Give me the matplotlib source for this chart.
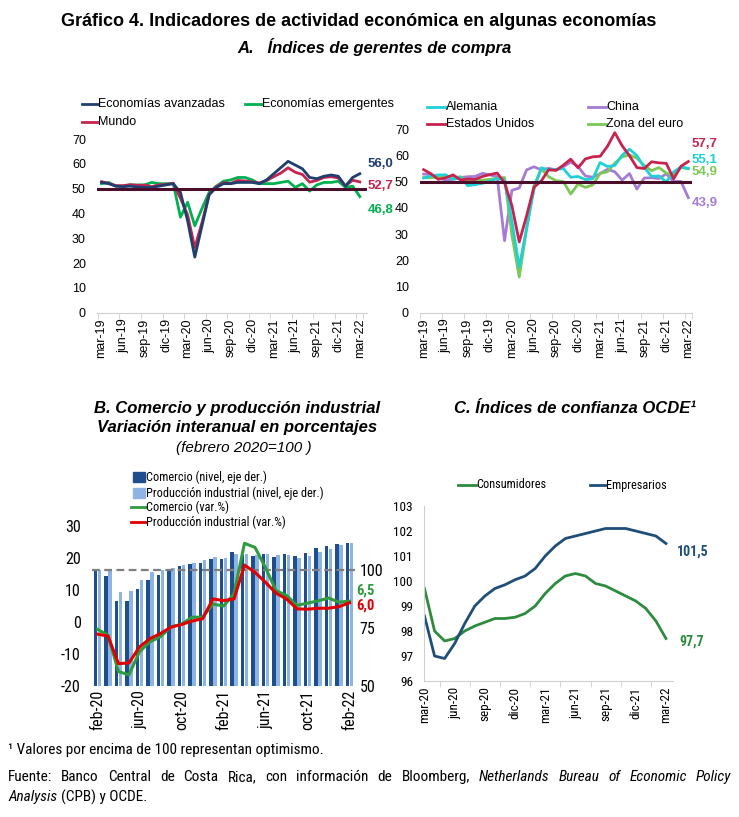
import os
import matplotlib
matplotlib.use("Agg")
import matplotlib.pyplot as plt
from matplotlib import font_manager as fm
from matplotlib.lines import Line2D
from matplotlib.patches import Rectangle

W, H = 739, 817
SANS = ["Liberation Sans", "DejaVu Sans"]
plt.rcParams["font.family"] = SANS
plt.rcParams["axes.unicode_minus"] = False

# ---- Panel A: PMI compuesto, mar-19 a mar-22 (mensual)
etiquetas_a = ["mar-19", "jun-19", "sep-19", "dic-19", "mar-20", "jun-20", "sep-20",
               "dic-20", "mar-21", "jun-21", "sep-21", "dic-21", "mar-22"]
avanzadas = [52.5, 52.0, 51.0, 50.8, 51.0, 50.7, 50.5, 50.5, 51.0, 51.5, 52.0, 48.5, 37.0,
             22.4, 35.0, 47.5, 50.5, 52.0, 52.0, 52.5, 52.5, 52.5, 52.0, 53.5, 56.0, 58.5,
             61.0, 59.5, 58.0, 54.5, 54.0, 55.0, 55.5, 55.0, 51.0, 54.5, 56.0]
emergentes = [52.0, 52.5, 51.0, 51.0, 51.5, 51.5, 51.5, 52.5, 52.0, 52.0, 52.0, 38.5, 44.5,
              35.0, 42.0, 48.5, 51.0, 53.0, 53.5, 54.5, 54.5, 53.5, 52.0, 52.0, 52.0, 52.5,
              53.0, 50.5, 52.0, 49.0, 51.5, 52.5, 52.5, 53.0, 50.5, 51.0, 46.8]
mundo = [52.8, 52.1, 51.2, 51.2, 51.6, 51.3, 51.4, 50.8, 51.5, 51.7, 52.2, 46.1, 39.4,
         26.2, 36.3, 47.7, 50.8, 52.4, 52.1, 53.3, 53.1, 52.7, 52.3, 53.2, 54.8, 56.3,
         58.4, 56.6, 55.7, 52.6, 53.3, 54.5, 54.8, 54.3, 51.1, 53.4, 52.7]

alemania = [51.4, 52.2, 52.6, 52.6, 50.9, 51.7, 48.5, 48.9, 49.4, 50.2, 51.2, 50.7, 35.0,
            17.4, 32.3, 47.0, 55.3, 54.4, 54.7, 55.0, 51.7, 52.0, 50.8, 51.1, 57.3, 55.8,
            56.2, 60.1, 62.4, 60.0, 55.5, 52.0, 52.2, 49.9, 53.8, 55.6, 55.1]
china = [52.9, 52.7, 51.5, 50.6, 50.9, 51.6, 51.9, 52.0, 53.2, 52.6, 51.9, 27.5, 46.7,
         47.6, 54.5, 55.7, 54.5, 55.1, 54.5, 55.7, 57.5, 55.8, 52.2, 51.7, 53.1, 54.7,
         53.8, 50.6, 53.1, 47.2, 51.4, 51.5, 51.2, 53.0, 50.1, 50.1, 43.9]
eeuu = [54.6, 53.0, 50.9, 51.5, 52.6, 50.7, 51.0, 50.9, 52.0, 52.7, 53.3, 49.6, 40.9,
        27.0, 37.0, 47.9, 50.3, 54.6, 54.3, 56.3, 58.6, 55.3, 58.7, 59.5, 59.7, 63.5,
        68.7, 63.7, 59.9, 55.4, 55.0, 57.6, 57.2, 57.0, 51.1, 55.9, 57.7]
zona_euro = [51.6, 51.5, 51.8, 52.2, 51.5, 51.9, 50.1, 50.6, 50.6, 50.9, 51.3, 51.6, 29.7,
             13.6, 31.9, 48.5, 54.9, 51.9, 50.4, 50.0, 45.3, 49.1, 47.8, 48.8, 53.2, 53.8,
             57.1, 59.5, 60.2, 59.0, 56.2, 54.2, 55.4, 53.3, 52.3, 55.5, 54.9]

# ---- Panel B: feb-20 a feb-22
etiquetas_b = ["feb-20", "jun-20", "oct-20", "feb-21", "jun-21", "oct-21", "feb-22"]
comercio_nivel = [100.0, 97.5, 86.5, 86.5, 92.0, 95.5, 98.0, 100.3, 101.6, 102.6, 103.0,
                  104.6, 104.6, 107.6, 106.5, 106.0, 107.0, 105.5, 107.0, 106.0, 107.2,
                  109.3, 110.4, 111.1, 111.7]
produccion_nivel = [100.0, 99.5, 90.6, 91.0, 95.7, 99.0, 100.0, 100.8, 102.0, 103.0, 104.3,
                    105.7, 105.3, 106.9, 107.0, 106.6, 107.0, 106.6, 106.6, 105.3, 106.0,
                    108.0, 108.9, 111.0, 111.7]
comercio_var = [-2.3, -4.1, -15.5, -16.5, -9.3, -6.2, -4.6, -1.5, -0.7, 1.5, 1.5, 5.6, 5.0,
                8.8, 24.6, 23.3, 17.0, 9.8, 8.3, 5.2, 5.9, 6.6, 7.5, 6.2, 6.5]
produccion_var = [-3.8, -4.4, -13.0, -12.8, -7.8, -5.2, -3.6, -1.6, -0.8, 0.3, 1.0, 7.2,
                  6.7, 7.2, 17.8, 15.5, 12.4, 9.0, 7.2, 4.1, 4.0, 4.3, 4.3, 4.8, 6.0]

# ---- Panel C: mar-20 a mar-22
etiquetas_c = ["mar-20", "jun-20", "sep-20", "dic-20", "mar-21", "jun-21", "sep-21",
               "dic-21", "mar-22"]
consumidores = [99.7, 98.0, 97.6, 97.7, 98.0, 98.2, 98.35, 98.5, 98.5, 98.55, 98.7, 99.0,
                99.5, 99.9, 100.2, 100.3, 100.2, 99.9, 99.8, 99.6, 99.4, 99.2, 98.9, 98.4,
                97.7]
empresarios = [98.6, 97.0, 96.9, 97.5, 98.3, 99.0, 99.4, 99.7, 99.85, 100.05, 100.2, 100.5,
               101.0, 101.4, 101.7, 101.8, 101.9, 102.0, 102.1, 102.1, 102.1, 102.0, 101.9,
               101.8, 101.5]

NAVY = "#1F3F6E"
VERDE = "#00B050"
CARMIN = "#C8234E"
LINEA50 = "#4A0E2A"
CIAN = "#1FD1D6"
LAVANDA = "#A57BD6"
VERDE_CLARO = "#7CC856"


# fuente estrecha (tipo Arial Narrow) si hay alguna instalada
def buscar(partes, excluir):
    for pref in ["liberationsansnarrow", "arialnarrow", "robotocondensed",
                 "dejavusanscondensed", "notosanscondensed"]:
        for f in fm.fontManager.ttflist:
            b = os.path.splitext(os.path.basename(f.fname))[0].lower().replace("-", "")
            if b.startswith(pref) and all(p in b for p in partes) and \
                    not any(e in b for e in excluir):
                return f.fname
    return None


OTROS = ["light", "thin", "black", "medium", "semibold", "extra"]
archivos = {
    (False, False): buscar([], ["bold", "italic", "oblique"] + OTROS),
    (True, False): buscar(["italic"], ["bold"] + OTROS) or buscar(["oblique"], ["bold"] + OTROS),
    (False, True): buscar(["bold"], ["italic", "oblique"] + OTROS),
}


def narrow(size, italic=False, bold=False):
    fname = archivos.get((italic, bold)) or archivos[(False, False)]
    if fname is None:
        return fm.FontProperties(family="Liberation Sans", size=size * 0.95,
                                 style="italic" if italic else "normal",
                                 weight="bold" if bold else "normal")
    return fm.FontProperties(fname=fname, size=size)


fig = plt.figure(figsize=(W / 100, H / 100), dpi=100)


def axes_px(l, t, r, b):
    return fig.add_axes([l / W, 1 - b / H, (r - l) / W, (b - t) / H])


def base_style(ax, ysize=9, xsize=9):
    for s in ["top", "right", "left"]:
        ax.spines[s].set_visible(False)
    ax.spines["bottom"].set_color("#d0d0d0")
    ax.tick_params(axis="y", length=0, labelsize=ysize, pad=8)
    ax.tick_params(axis="x", which="major", length=0, labelsize=xsize, rotation=90, pad=4)
    ax.tick_params(axis="x", which="minor", length=4, color="#d0d0d0")
    ax.patch.set_alpha(0)


def cat_ticks(ax, n, step, labels):
    pos = list(range(0, n, step))
    ax.set_xticks(pos)
    ax.set_xticklabels(labels)
    ax.set_xticks([p - 0.5 for p in pos] + [pos[-1] + 0.5], minor=True)


def leg_line(x0, x1, y, color, label, fs=9, prop=None, lw=2):
    fig.add_artist(Line2D([x0 / W, x1 / W], [1 - y / H, 1 - y / H], color=color, lw=lw))
    if prop is None:
        fig.text(x1 / W, 1 - y / H, label, va="center", ha="left", fontsize=fs)
    else:
        fig.text(x1 / W, 1 - y / H, label, va="center", ha="left", fontproperties=prop)


def leg_patch(x0, x1, y, color, label, prop):
    fig.add_artist(Rectangle((x0 / W, 1 - (y + 5) / H), (x1 - x0) / W, 10 / H,
                             color=color, transform=fig.transFigure))
    fig.text((x1 + 1) / W, 1 - y / H, label, va="center", ha="left", fontproperties=prop)


# ---------------- Panel A izquierda
ax1 = axes_px(97, 139, 367, 312.7)
n = len(mundo)
x = list(range(n))
ax1.plot(x, emergentes, color=VERDE, lw=2)
ax1.plot(x, mundo, color=CARMIN, lw=2)
ax1.plot(x, avanzadas, color=NAVY, lw=2)
ax1.axhline(50, color=LINEA50, lw=2.2)
ax1.set_ylim(0, 70)
ax1.set_xlim(-0.63, 37.0)
ax1.set_yticks(range(0, 71, 10))
base_style(ax1)
cat_ticks(ax1, n, 3, etiquetas_a)
ax1.text(37.1, 59.8, "56,0", color=NAVY, fontsize=9.5, fontweight="bold", va="center")
ax1.text(37.1, 51.0, "52,7", color=CARMIN, fontsize=9.5, fontweight="bold", va="center")
ax1.text(37.1, 41.5, "46,8", color=VERDE, fontsize=9.5, fontweight="bold", va="center")

leg_line(82, 98, 104, NAVY, "Economías avanzadas")
leg_line(245, 262, 104, VERDE, "Economías emergentes")
leg_line(82, 98, 122, CARMIN, "Mundo")

# ---------------- Panel A derecha
ax2 = axes_px(420, 129.3, 692, 312.7)
ax2.plot(x, china, color=LAVANDA, lw=2)
ax2.plot(x, zona_euro, color=VERDE_CLARO, lw=2)
ax2.plot(x, alemania, color=CIAN, lw=2)
ax2.plot(x, eeuu, color=CARMIN, lw=2)
ax2.axhline(50, color=LINEA50, lw=2.2)
ax2.set_ylim(0, 70)
ax2.set_xlim(-0.4, 36.5)
ax2.set_yticks(range(0, 71, 10))
base_style(ax2)
cat_ticks(ax2, n, 3, etiquetas_a)
ax2.text(36.45, 64.4, "57,7", color=CARMIN, fontsize=9.5, fontweight="bold", va="center")
ax2.text(36.45, 58.3, "55,1", color=CIAN, fontsize=9.5, fontweight="bold", va="center")
ax2.text(36.45, 53.8, "54,9", color=VERDE_CLARO, fontsize=9.5, fontweight="bold", va="center")
ax2.text(36.45, 41.8, "43,9", color=LAVANDA, fontsize=9.5, fontweight="bold", va="center")

leg_line(427, 446, 107, CIAN, "Alemania")
leg_line(588, 606, 107, LAVANDA, "China")
leg_line(427, 446, 124, CARMIN, "Estados Unidos")
leg_line(588, 606, 124, VERDE_CLARO, "Zona del euro")

# ---------------- Panel B
ax3 = axes_px(91.7, 526, 355.3, 686)
ax3r = ax3.twinx()
nb = len(comercio_var)
xb = list(range(nb))
ax3r.bar([i - 0.19 for i in xb], [v - 50 for v in comercio_nivel], bottom=50, width=0.36,
         color="#1F4E8C")
ax3r.bar([i + 0.19 for i in xb], [v - 50 for v in produccion_nivel], bottom=50, width=0.36,
         color="#8DB4E2")
ax3r.axhline(100, color="#7f7f7f", lw=1.6, ls=(0, (3.5, 2)))
ax3r.set_ylim(50, 119)
ax3r.set_yticks([50, 75, 100])
ax3.set_zorder(ax3r.get_zorder() + 1)
ax3.patch.set_visible(False)
ax3.plot(xb, comercio_var, color="#2E9B3E", lw=2.2)
ax3.plot(xb, produccion_var, color="#E00000", lw=2.2)
ax3.set_ylim(-20, 30)
ax3.set_xlim(-0.55, 24.55)
ax3.set_yticks(range(-20, 31, 10))
base_style(ax3)
for s in ["top", "right", "left", "bottom"]:
    ax3r.spines[s].set_visible(False)
ax3.spines["bottom"].set_visible(False)
ax3r.tick_params(axis="y", length=0, pad=3)
ax3.set_xticks(range(0, nb, 4))
ax3.set_xticklabels(etiquetas_b)
ax3.tick_params(axis="x", which="major", length=0, rotation=90, pad=3)
for lb in ax3.get_yticklabels() + ax3r.get_yticklabels():
    lb.set_fontproperties(narrow(11.5))
for lb in ax3.get_xticklabels():
    lb.set_fontproperties(narrow(11.5))
ax3.text(24.6, 9.8, "6,5", color="#2E9B3E", va="center", fontproperties=narrow(10.5, bold=True))
ax3.text(24.6, 5.2, "6,0", color="#E00000", va="center", fontproperties=narrow(10.5, bold=True))

leg_patch(133, 145, 477, "#1F4E8C", "Comercio (nivel, eje der.)", narrow(8.8))
leg_patch(133, 145, 493, "#8DB4E2", "Producción industrial (nivel, eje der.)", narrow(8.8))
leg_line(131, 146, 507, "#2E9B3E", "Comercio (var.%)", prop=narrow(8.8))
leg_line(131, 146, 522, "#E00000", "Producción industrial (var.%)", prop=narrow(8.8))

# ---------------- Panel C
ax4 = axes_px(424, 506, 673, 681)
nc = len(consumidores)
xc = list(range(nc))
ax4.plot(xc, consumidores, color="#2E8B3E", lw=2)
ax4.plot(xc, empresarios, color="#1F4E79", lw=2)
ax4.set_ylim(96, 103)
ax4.set_xlim(-0.05, 24.7)
ax4.set_yticks(range(96, 104))
base_style(ax4)
ax4.spines["left"].set_visible(True)
ax4.spines["left"].set_color("#d0d0d0")
ax4.set_xticks(range(0, nc, 3))
ax4.set_xticklabels(etiquetas_c)
ax4.set_xticks([p + 1.5 for p in range(0, nc - 1, 3)], minor=True)
for lb in ax4.get_yticklabels() + ax4.get_xticklabels():
    lb.set_fontproperties(narrow(9.5))
ax4.text(25.1, 101.17, "101,5", color="#1F4E79", va="center", fontproperties=narrow(10, bold=True))
ax4.text(25.3, 97.57, "97,7", color="#2E8B3E", va="center", fontproperties=narrow(10, bold=True))

leg_line(458, 476, 485, "#2E8B3E", "Consumidores", prop=narrow(8.8))
leg_line(590, 606, 485, "#1F4E79", "Empresarios", prop=narrow(8.8))

# ---------------- Títulos
fig.text(359 / W, 1 - 22 / H, "Gráfico 4. Indicadores de actividad económica en algunas economías",
         ha="center", va="center", fontsize=13, fontweight="bold")
fig.text(374 / W, 1 - 47 / H, "A.   Índices de gerentes de compra", ha="center", va="center",
         fontsize=12, fontweight="bold", style="italic")
fig.text(237 / W, 1 - 408 / H, "B. Comercio y producción industrial", ha="center",
         va="center", fontsize=12, fontweight="bold", style="italic")
fig.text(237 / W, 1 - 428 / H, "Variación interanual en porcentajes", ha="center",
         va="center", fontsize=12, fontweight="bold", style="italic")
fig.text(244 / W, 1 - 448 / H, "(febrero 2020=100 )", ha="center", va="center",
         fontsize=11, style="italic")
fig.text(575 / W, 1 - 408 / H, "C. Índices de confianza OCDE¹", ha="center", va="center",
         fontsize=12, fontweight="bold", style="italic")

# ---------------- Notas
fig.text(8 / W, 1 - 750 / H, "¹ Valores por encima de 100 representan optimismo.",
         ha="left", va="center", fontproperties=narrow(11))

renderer = fig.canvas.get_renderer()
palabras = [("Fuente:", False), ("Banco", False), ("Central", False), ("de", False),
            ("Costa", False), ("Rica,", False), ("con", False), ("información", False),
            ("de", False), ("Bloomberg,", False), ("Netherlands", True), ("Bureau", True),
            ("of", True), ("Economic", True), ("Policy", True)]
objs = [fig.text(0, 1 - 777 / H, w, ha="left", va="center", fontproperties=narrow(11, it))
        for w, it in palabras]
anchos = [o.get_window_extent(renderer).width for o in objs]
x0, x1 = 8, 731
hueco = (x1 - x0 - sum(anchos)) / (len(objs) - 1)
xp = x0
for o, a in zip(objs, anchos):
    o.set_x(xp / W)
    xp += a + hueco

t1 = fig.text(8 / W, 1 - 797 / H, "Analysis", ha="left", va="center",
              fontproperties=narrow(11, True))
a1 = t1.get_window_extent(renderer).width
fig.text((8 + a1 + 3.5) / W, 1 - 797 / H, "(CPB) y OCDE.", ha="left", va="center",
         fontproperties=narrow(11))

fig.savefig("out.png", dpi=100)
